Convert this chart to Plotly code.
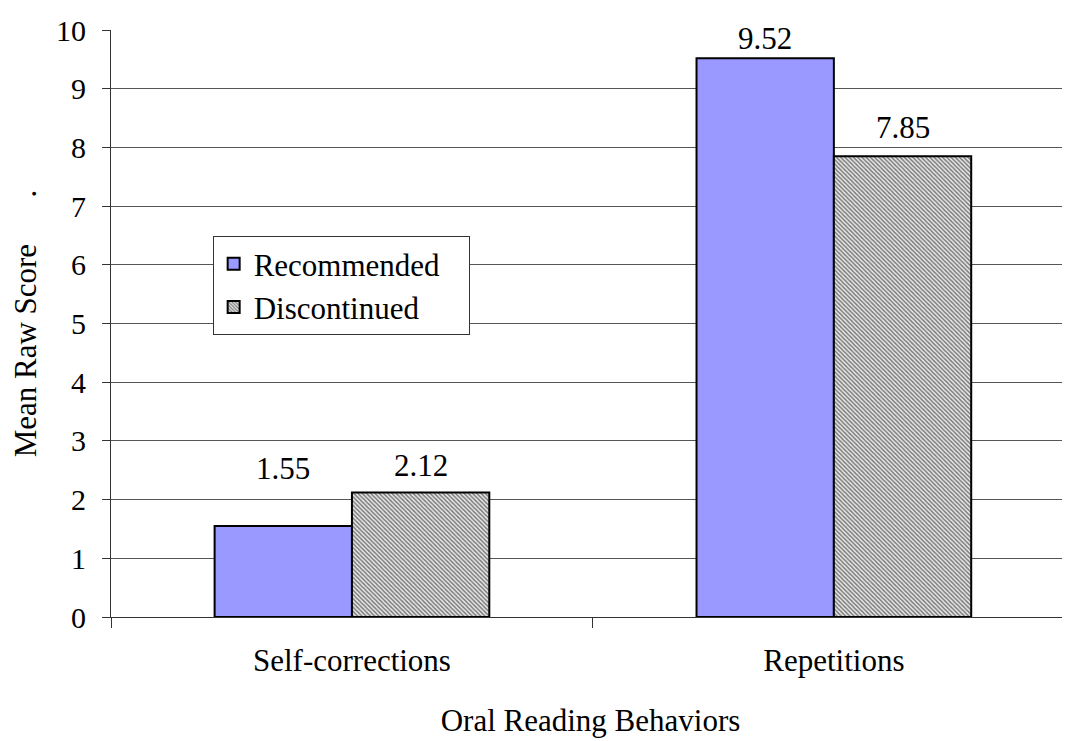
import plotly.graph_objects as go

categories = ["Self-corrections", "Repetitions"]
recommended = [1.55, 9.52]
discontinued = [2.12, 7.85]
series_names = ["Recommended", "Discontinued"]
y_ticks = list(range(0, 11))

FONT = "Liberation Serif, Times New Roman, serif"
FS = 31
FT = 30
PAD = "\u00a0" * 3  # right padding inside the legend box

fig = go.Figure()
fig.add_trace(go.Bar(
    x=categories, y=recommended, name=series_names[0] + PAD,
    marker=dict(color="#9999FF", line=dict(color="black", width=2)),
))
fig.add_trace(go.Bar(
    x=categories, y=discontinued, name=series_names[1],
    marker=dict(color="white", line=dict(color="black", width=2),
                pattern=dict(shape="\\", size=3, solidity=0.5,
                             fgcolor="#7a7a7a", bgcolor="#ececec", fillmode="replace")),
))

# value labels
shifts = {0: [38, 0], 1: [8, 9]}
offs = {0: -0.1425, 1: 0.1425}
for si, vals in enumerate([recommended, discontinued]):
    for ci, v in enumerate(vals):
        fig.add_annotation(
            x=ci + offs[si], y=v, xref="x", yref="y",
            text=f"{v:.2f}", showarrow=False, yanchor="bottom",
            yshift=shifts[si][ci], font=dict(family=FONT, size=FS, color="black"),
        )

fig.update_layout(
    width=1062, height=733,
    margin=dict(l=103, r=0, t=22, b=124),
    paper_bgcolor="white", plot_bgcolor="white",
    barmode="group", bargap=0.43, bargroupgap=0,
    font=dict(family=FONT, size=FS, color="black"),
    showlegend=True,
    legend=dict(
        x=0.106, y=0.649, xanchor="left", yanchor="top",
        bgcolor="white", bordercolor="#333333", borderwidth=1,
        font=dict(family=FONT, size=FS, color="black"),
        traceorder="normal",
    ),
    xaxis=dict(
        type="category", range=[-0.5, 1.49],
        tickson="boundaries", ticks="outside", ticklen=10, tickcolor="#333333",
        showline=True, linecolor="#333333", linewidth=1,
        showgrid=False, ticklabelstandoff=16,
        title=dict(text="Oral Reading Behaviors", standoff=32,
                   font=dict(family=FONT, size=FS)),
        tickfont=dict(family=FONT, size=FS),
    ),
    yaxis=dict(
        range=[0, 10], tickvals=y_ticks, ticks="outside", ticklen=8, tickcolor="#333333",
        showline=True, linecolor="#333333", linewidth=1,
        showgrid=True, gridcolor="#555555", gridwidth=1,
        zeroline=False, ticklabelstandoff=10,
        title=dict(text="Mean Raw Score" + "\u00a0" * 6 + ".", standoff=16,
                   font=dict(family=FONT, size=FS)),
        tickfont=dict(family=FONT, size=FT),
    ),
)

fig.write_html("out.html")
